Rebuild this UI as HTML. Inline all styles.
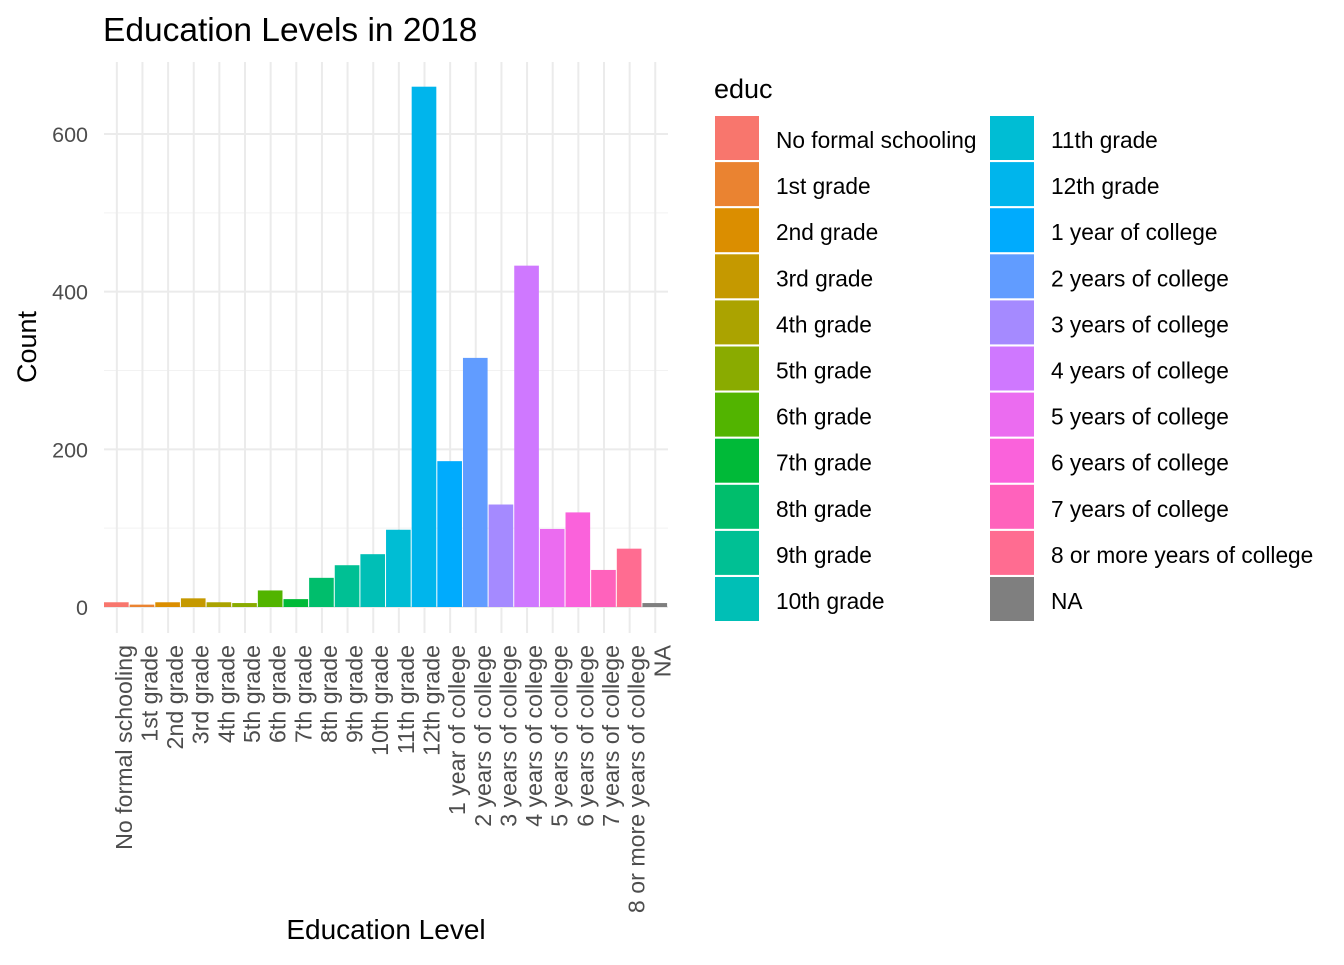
<!DOCTYPE html>
<html><head><meta charset="utf-8"><style>
body{margin:0;background:#fff;font-family:"Liberation Sans",Arial,sans-serif;}
</style></head><body>
<svg id="chart" width="1344" height="960" xmlns="http://www.w3.org/2000/svg" font-family="Liberation Sans, Arial, sans-serif">
<text x="103" y="41" font-size="33.5" fill="#000">Education Levels in 2018</text>
<g id="grid"></g>
<g id="bars"></g>
<g id="yticks"></g>
<g id="xticks"></g>
<text transform="translate(36,347) rotate(-90)" text-anchor="middle" font-size="27" fill="#000">Count</text>
<text x="386" y="939" text-anchor="middle" font-size="28" fill="#000">Education Level</text>
<text x="714" y="98" font-size="27" fill="#000">educ</text>
<g id="legend"></g>
</svg>
<script>
const categories=["No formal schooling","1st grade","2nd grade","3rd grade","4th grade","5th grade","6th grade","7th grade","8th grade","9th grade","10th grade","11th grade","12th grade","1 year of college","2 years of college","3 years of college","4 years of college","5 years of college","6 years of college","7 years of college","8 or more years of college","NA"];
const counts=[6,3,6,11,6,5,21,10,37,53,67,98,660,185,316,130,433,99,120,47,74,5];
const colors=["#F8766D","#EA8331","#DB8E00","#C59900","#ABA300","#8AAB00","#52B400","#00BA38","#00BE6C","#00C094","#00BFB6","#00BDD4","#00B5EC","#00ABFD","#619CFF","#A58AFF","#CF78FF","#EB6CF0","#FA62DB","#FF62BC","#FF6C91","#7F7F7F"];
const yTicks=[0,200,400,600];
const yMinor=[100,300,500,700];
const NS="http://www.w3.org/2000/svg";
const x0=104,slot=25.64,yBase=607,pxPer=473/600,yTop=62,xRight=668;
const xPos=i=>x0+i*slot;
const yPos=v=>yBase-v*pxPer;
function mk(tag,attrs,parent){const e=document.createElementNS(NS,tag);for(const k in attrs)e.setAttribute(k,attrs[k]);parent.appendChild(e);return e;}
const grid=document.getElementById('grid');
yMinor.forEach(v=>{if(yPos(v)<yTop)return;const l=mk('line',{x1:x0,x2:xRight,y1:yPos(v),y2:yPos(v),stroke:'#f2f2f2','stroke-width':1},grid);

});
yTicks.forEach(v=>{const l=mk('line',{x1:x0,x2:xRight,y1:yPos(v),y2:yPos(v),stroke:'#ebebeb','stroke-width':2},grid);

});
categories.forEach((c,i)=>{const cx=xPos(i)+slot/2;const l=mk('line',{x1:cx,x2:cx,y1:yTop,y2:633,stroke:'#ebebeb','stroke-width':2},grid);

});
const bars=document.getElementById('bars');
counts.forEach((v,i)=>{const r=mk('rect',{x:xPos(i),y:yPos(v),width:slot-1,height:v*pxPer,fill:colors[i]},bars);

});
const yt=document.getElementById('yticks');
yTicks.forEach(v=>{const t=mk('text',{x:88,y:yPos(v)+8,'text-anchor':'end','font-size':21.5,fill:'#4d4d4d'},yt);t.textContent=v;

});
const xt=document.getElementById('xticks');
categories.forEach((c,i)=>{const cx=xPos(i)+slot/2+15;const t=mk('text',{transform:`translate(${cx},645) rotate(-90)`,'text-anchor':'end','font-size':23.2,fill:'#4d4d4d'},xt);t.textContent=c;

});
const lg=document.getElementById('legend');
categories.forEach((c,i)=>{const col=i<11?0:1,row=i%11;const kx=col?990:715,ky=116+row*46.1;
const r=mk('rect',{x:kx,y:ky,width:44,height:44,fill:colors[i]},lg);


const t=mk('text',{x:kx+61,y:ky+32,'font-size':22.7,fill:'#000'},lg);t.textContent=c;

});
</script>
</body></html>
